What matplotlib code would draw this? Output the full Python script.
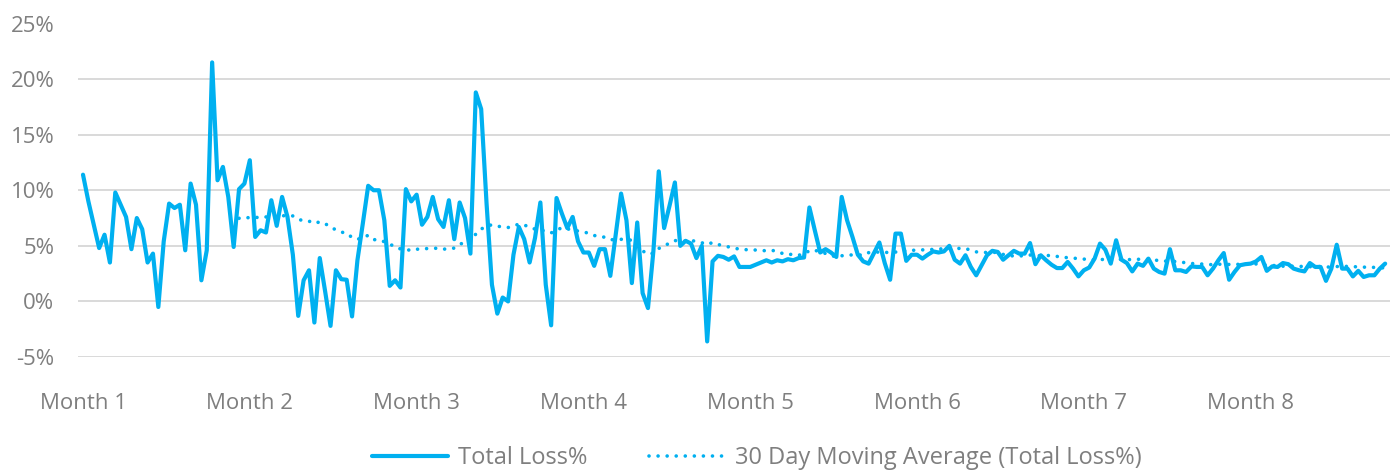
import matplotlib
matplotlib.use("Agg")
import matplotlib.pyplot as plt
import numpy as np
import pandas as pd

# Daily Total Loss % values
total_loss = [
    11.4, 9.0, 6.9, 4.8, 6.0, 3.5, 9.8, 8.7, 7.6, 4.7,
    7.5, 6.5, 3.5, 4.3, -0.5, 5.4, 8.8, 8.4, 8.7, 4.6,
    10.6, 8.7, 1.9, 4.6, 21.5, 10.9, 12.1, 9.4, 4.9, 10.1,
    10.6, 12.7, 5.8, 6.4, 6.2, 9.1, 6.8, 9.4, 7.6, 4.2,
    -1.3, 1.9, 2.8, -1.9, 3.9, 0.9, -2.2, 2.8, 2.0, 1.95,
    -1.35, 3.7, 7.0, 10.4, 10.0, 10.0, 7.3, 1.4, 1.9, 1.25,
    10.1, 9.0, 9.6, 6.9, 7.6, 9.4, 7.4, 6.7, 9.1, 5.6,
    8.9, 7.5, 4.3, 18.8, 17.3, 8.8, 1.5, -1.1, 0.35, 0.0,
    4.2, 6.7, 5.6, 3.5, 5.7, 8.9, 1.5, -2.15, 9.3, 7.9,
    6.6, 7.6, 5.4, 4.4, 4.4, 3.2, 4.7, 4.7, 2.3, 6.0,
    9.7, 7.3, 1.65, 7.1, 0.75, -0.6, 4.5, 11.7, 6.6, 8.6,
    10.7, 5.0, 5.45, 5.2, 3.9, 5.0, -3.6, 3.6, 4.1, 4.0,
    3.75, 4.05, 3.1, 3.1, 3.1, 3.3, 3.5, 3.7, 3.5, 3.7,
    3.6, 3.8, 3.7, 3.9, 3.95, 8.45, 6.4, 4.4, 4.7, 4.4,
    4.0, 9.4, 7.3, 5.8, 4.2, 3.6, 3.4, 4.35, 5.3, 3.45,
    1.95, 6.1, 6.1, 3.65, 4.2, 4.2, 3.85, 4.2, 4.5, 4.4,
    4.5, 5.0, 3.75, 3.4, 4.15, 3.1, 2.35, 3.25, 4.15, 4.55,
    4.45, 3.75, 4.15, 4.55, 4.3, 4.3, 5.25, 3.35, 4.15, 3.7,
    3.3, 3.0, 3.0, 3.55, 2.95, 2.25, 2.8, 3.05, 3.85, 5.2,
    4.65, 3.4, 5.5, 3.75, 3.45, 2.7, 3.4, 3.2, 3.85, 2.95,
    2.65, 2.5, 4.7, 2.8, 2.8, 2.65, 3.15, 3.1, 3.1, 2.35,
    2.95, 3.7, 4.35, 1.95, 2.65, 3.25, 3.35, 3.4, 3.6, 4.0,
    2.75, 3.15, 3.1, 3.45, 3.35, 2.95, 2.8, 2.7, 3.45, 3.1,
    3.1, 1.85, 2.95, 5.1, 2.95, 2.95, 2.25, 2.75, 2.2, 2.35,
    2.35, 2.95, 3.4,
]

month_labels = ["Month 1", "Month 2", "Month 3", "Month 4",
                "Month 5", "Month 6", "Month 7", "Month 8"]
month_positions = [0, 31, 62, 93, 124, 155, 186, 217]
y_ticks = [-5, 0, 5, 10, 15, 20, 25]
ma_window = 30

series_labels = ["Total Loss%", "30 Day Moving Average (Total Loss%)"]

LINE_COLOR = "#00B0F0"
TEXT_COLOR = "#7F7F7F"
plt.rcParams["font.family"] = ["Open Sans", "DejaVu Sans"]

W, H = 1392, 472
fig = plt.figure(figsize=(W / 100, H / 100), dpi=100)
left, right, top, bottom = 78, 1390, 23.5, 357
ax = fig.add_axes([left / W, 1 - bottom / H, (right - left) / W, (bottom - top) / H])

days = np.arange(len(total_loss))
ax.plot(days, total_loss, color=LINE_COLOR, lw=3.0, solid_joinstyle="round",
        solid_capstyle="round", label=series_labels[0], zorder=3)
moving_avg = pd.Series(total_loss).rolling(ma_window).mean()
ax.plot(days, moving_avg, color=LINE_COLOR, lw=2.6, linestyle=(0, (0.01, 2.5)),
        dash_capstyle="round", label=series_labels[1], zorder=2)

ax.set_ylim(-5, 25)
ax.set_yticks(y_ticks)
ax.set_yticklabels([f"{v}%" for v in y_ticks])
ax.set_xlim(-0.93, 242.9)
ax.set_xticks(month_positions)
ax.set_xticklabels(month_labels)

ax.grid(axis="y", color="#D9D9D9", lw=1.4)
ax.grid(axis="x", visible=False)
ax.set_axisbelow(True)
for s in ax.spines.values():
    s.set_visible(False)
ax.tick_params(length=0, labelsize=16, colors=TEXT_COLOR)
ax.tick_params(axis="y", pad=17)
ax.tick_params(axis="x", pad=26)

fig.legend(loc="center", bbox_to_anchor=(757 / W, 1 - 458 / H), ncol=2,
           frameon=False, fontsize=17, handlelength=3.2, handletextpad=0.45,
           columnspacing=2.6, labelcolor=TEXT_COLOR)

fig.savefig("out.png", dpi=100)
